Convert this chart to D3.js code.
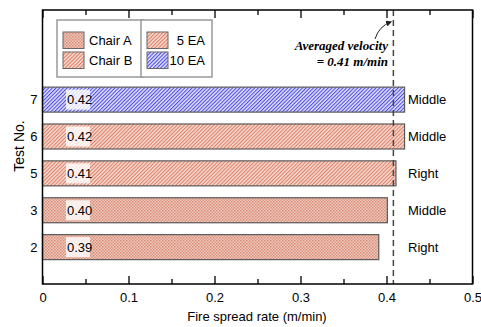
<!DOCTYPE html>
<html>
<head>
<meta charset="utf-8">
<script src="https://cdn.jsdelivr.net/npm/d3@7"></script>
<style>
body { margin: 0; background: #fff; }
svg { font-family: "Liberation Sans", Arial, sans-serif; }
</style>
</head>
<body>
<svg width="481" height="327"></svg>
<script>
// data
var tests = ['2', '3', '5', '6', '7'];
var rates = [0.391, 0.401, 0.411, 0.421, 0.421];
var places = ['Right', 'Middle', 'Right', 'Middle', 'Middle'];
var chairs = ['A', 'A', 'B', 'B', 'B'];
var extinguishers = ['5', '5', '5', '5', '10'];
var xTicks = [0, 0.1, 0.2, 0.3, 0.4, 0.5];
var xMinor = [0.05, 0.15, 0.25, 0.35, 0.45];
var averaged = 0.408;

var svg = d3.select('svg');
var defs = svg.append('defs');

var plotLeft = 42.5, plotRight = 472.5, plotTop = 10, plotBottom = 284;

var x = d3.scaleLinear().domain([0, 0.5]).range([plotLeft, plotRight]);
var y = d3.scaleLinear().domain([-1, 6.43]).range([plotBottom, plotTop]);

// fill patterns
var pa = defs.append('pattern')
    .attr('id', 'chairA')
    .attr('patternUnits', 'userSpaceOnUse')
    .attr('width', 3)
    .attr('height', 3);
pa.append('rect').attr('width', 3).attr('height', 3).attr('fill', '#efcbbf');
pa.append('rect').attr('width', 1.5).attr('height', 1.5).attr('fill', '#d88a74');
pa.append('rect').attr('x', 1.5).attr('y', 1.5).attr('width', 1.5).attr('height', 1.5).attr('fill', '#dc9682');

function hatch(id, bg, fg) {
    var p = defs.append('pattern')
        .attr('id', id)
        .attr('patternUnits', 'userSpaceOnUse')
        .attr('width', 2.6)
        .attr('height', 2.6)
        .attr('patternTransform', 'rotate(45)');
    p.append('rect').attr('width', 2.6).attr('height', 2.6).attr('fill', bg);
    p.append('rect').attr('width', 1).attr('height', 2.6).attr('fill', fg);
}
hatch('chairB5', '#f3d8cf', '#e07c62');
hatch('chairB10', '#dcdcfa', '#4a4ae6');

function fillFor(i) {
    if (chairs[i] === 'A') return 'url(#chairA)';
    return extinguishers[i] === '10' ? 'url(#chairB10)' : 'url(#chairB5)';
}

// bars
svg.selectAll('rect.bar')
    .data(rates)
    .enter()
    .append('rect')
    .attr('class', 'bar')
    .attr('x', x(0))
    .attr('y', function(d, i){ return y(i) - 12.5; })
    .attr('width', function(d){ return x(d) - x(0); })
    .attr('height', 25)
    .attr('fill', function(d, i){ return fillFor(i); })
    .attr('stroke', '#5a5a5a')
    .attr('stroke-width', 1.2);

// value labels
svg.selectAll('rect.lab')
    .data(rates)
    .enter()
    .append('rect')
    .attr('class', 'lab')
    .attr('x', 66)
    .attr('y', function(d, i){ return y(i) - 10; })
    .attr('width', 24)
    .attr('height', 20)
    .attr('fill', '#fff')
    .attr('opacity', 0.8);

svg.selectAll('text.val')
    .data(rates)
    .enter()
    .append('text')
    .attr('class', 'val')
    .attr('x', 67)
    .attr('y', function(d, i){ return y(i); })
    .attr('dy', '0.36em')
    .attr('font-size', 13)
    .text(function(d){ return d.toFixed(2); });

svg.selectAll('text.place')
    .data(places)
    .enter()
    .append('text')
    .attr('class', 'place')
    .attr('x', 408)
    .attr('y', function(d, i){ return y(i); })
    .attr('dy', '0.36em')
    .attr('font-size', 13)
    .text(function(d){ return d; });

// averaged velocity line
svg.append('line')
    .attr('x1', x(averaged))
    .attr('x2', x(averaged))
    .attr('y1', plotTop)
    .attr('y2', plotBottom)
    .attr('stroke', '#444')
    .attr('stroke-width', 1.5)
    .attr('stroke-dasharray', '6,4');

// axes
var xAxis = d3.axisBottom(x).tickValues(xTicks).tickSizeInner(-8).tickSizeOuter(0).tickPadding(9)
    .tickFormat(function(d){ return d === 0 ? '0' : d3.format('.1f')(d); });
var gx = svg.append('g').attr('transform', 'translate(0,' + plotBottom + ')').call(xAxis);
gx.select('.domain').remove();
gx.selectAll('text').attr('font-size', 13);

var gxm = svg.append('g').attr('transform', 'translate(0,' + plotBottom + ')')
    .call(d3.axisBottom(x).tickValues(xMinor).tickSizeInner(-5).tickSizeOuter(0).tickFormat(''));
gxm.select('.domain').remove();

var gt = svg.append('g').attr('transform', 'translate(0,' + plotTop + ')')
    .call(d3.axisTop(x).tickValues(xTicks).tickSizeInner(-8).tickSizeOuter(0).tickFormat(''));
gt.select('.domain').remove();
var gtm = svg.append('g').attr('transform', 'translate(0,' + plotTop + ')')
    .call(d3.axisTop(x).tickValues(xMinor).tickSizeInner(-5).tickSizeOuter(0).tickFormat(''));
gtm.select('.domain').remove();

svg.selectAll('.tick line').attr('stroke', '#000').attr('stroke-width', 1.3);

var gy = svg.append('g').attr('transform', 'translate(' + (plotLeft - 5) + ',0)')
    .call(d3.axisLeft(y).tickValues(d3.range(tests.length)).tickSize(0).tickPadding(0)
        .tickFormat(function(d){ return tests[d]; }));
gy.select('.domain').remove();
gy.selectAll('text').attr('font-size', 13);
svg.selectAll('g').attr('font-family', null);

// frame
svg.append('rect')
    .attr('x', plotLeft)
    .attr('y', plotTop)
    .attr('width', plotRight - plotLeft)
    .attr('height', plotBottom - plotTop)
    .attr('fill', 'none')
    .attr('stroke', '#000')
    .attr('stroke-width', 1.5);

// axis titles
svg.append('text')
    .attr('x', 257)
    .attr('y', 321)
    .attr('text-anchor', 'middle')
    .attr('font-size', 13)
    .text('Fire spread rate (m/min)');

svg.append('text')
    .attr('transform', 'translate(24,146) rotate(-90)')
    .attr('text-anchor', 'middle')
    .attr('font-size', 14)
    .text('Test No.');

// legend
var legendA = [{label: 'Chair A', fill: 'url(#chairA)'}, {label: 'Chair B', fill: 'url(#chairB5)'}];
var legendB = [{label: '5 EA', fill: 'url(#chairB5)'}, {label: '10 EA', fill: 'url(#chairB10)'}];

svg.append('rect').attr('x', 57).attr('y', 20).attr('width', 87).attr('height', 57)
    .attr('fill', '#fff').attr('stroke', '#999').attr('stroke-width', 1.5);
svg.append('rect').attr('x', 141).attr('y', 20).attr('width', 71).attr('height', 57)
    .attr('fill', '#fff').attr('stroke', '#999').attr('stroke-width', 1.5);

svg.selectAll('rect.legA')
    .data(legendA)
    .enter()
    .append('rect')
    .attr('class', 'legA')
    .attr('x', 63)
    .attr('y', function(d, i){ return 32 + i * 20; })
    .attr('width', 21)
    .attr('height', 16.5)
    .attr('fill', function(d){ return d.fill; })
    .attr('stroke', '#666');
svg.selectAll('text.legA')
    .data(legendA)
    .enter()
    .append('text')
    .attr('class', 'legA')
    .attr('x', 89)
    .attr('y', function(d, i){ return 40 + i * 20; })
    .attr('dy', '0.36em')
    .attr('font-size', 13)
    .text(function(d){ return d.label; });

svg.selectAll('rect.legB')
    .data(legendB)
    .enter()
    .append('rect')
    .attr('class', 'legB')
    .attr('x', 147)
    .attr('y', function(d, i){ return 32 + i * 20; })
    .attr('width', 21)
    .attr('height', 16.5)
    .attr('fill', function(d){ return d.fill; })
    .attr('stroke', '#666');
svg.selectAll('text.legB')
    .data(legendB)
    .enter()
    .append('text')
    .attr('class', 'legB')
    .attr('x', 205)
    .attr('y', function(d, i){ return 40 + i * 20; })
    .attr('dy', '0.36em')
    .attr('text-anchor', 'end')
    .attr('font-size', 13)
    .text(function(d){ return d.label; });

// annotation
defs.append('marker')
    .attr('id', 'arrow')
    .attr('viewBox', '0 0 10 10')
    .attr('refX', 8)
    .attr('refY', 5)
    .attr('markerWidth', 6)
    .attr('markerHeight', 6)
    .attr('orient', 'auto')
    .append('path')
    .attr('d', 'M0,0 L10,5 L0,10 z')
    .attr('fill', '#222');

svg.append('path')
    .attr('d', 'M375,39 Q379,26 391,22')
    .attr('fill', 'none')
    .attr('stroke', '#222')
    .attr('stroke-width', 1)
    .attr('marker-end', 'url(#arrow)');

svg.append('text')
    .attr('x', 388)
    .attr('y', 50)
    .attr('text-anchor', 'end')
    .attr('font-family', '"Liberation Serif", "Times New Roman", serif')
    .attr('font-style', 'italic')
    .attr('font-weight', 'bold')
    .attr('font-size', 13)
    .text('Averaged velocity');
svg.append('text')
    .attr('x', 388)
    .attr('y', 66)
    .attr('text-anchor', 'end')
    .attr('font-family', '"Liberation Serif", "Times New Roman", serif')
    .attr('font-style', 'italic')
    .attr('font-weight', 'bold')
    .attr('font-size', 13)
    .text('= 0.41 m/min');
</script>
</body>
</html>
